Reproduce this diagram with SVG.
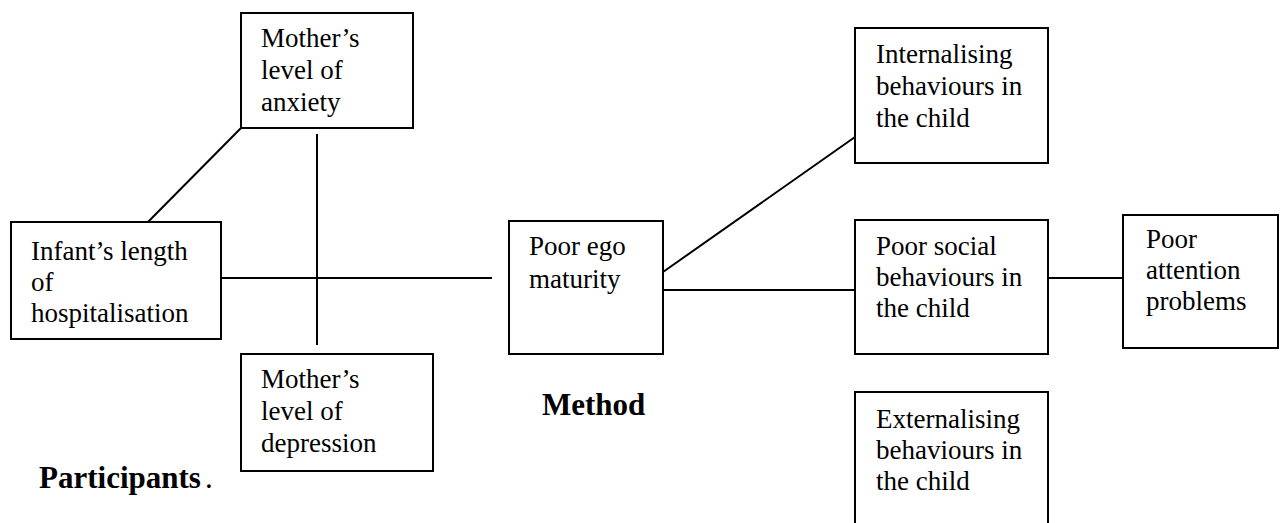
<svg xmlns="http://www.w3.org/2000/svg" width="1281" height="523" viewBox="0 0 1281 523">
<style>
.box{fill:#fff;stroke:#000;stroke-width:2}
.c{stroke:#000;stroke-width:2;fill:none}
</style>
<rect width="1281" height="523" fill="#fff"/>
<g id="connectors">
<line class="c" x1="241" y1="128" x2="146" y2="224"/>
<line class="c" x1="317" y1="134" x2="317" y2="345"/>
<line class="c" x1="221" y1="278" x2="492" y2="278"/>
<line class="c" x1="663" y1="272" x2="855" y2="137"/>
<line class="c" x1="663" y1="290" x2="855" y2="290"/>
<line class="c" x1="1048" y1="278" x2="1123" y2="278"/>
</g>
<g id="anxiety">
<rect class="box" x="241" y="13" width="172" height="115"/>
<text x="261" y="47" font-family="Times New Roman" font-size="27">Mother’s</text>
<text x="261" y="79" font-family="Times New Roman" font-size="27">level of</text>
<text x="261" y="111" font-family="Times New Roman" font-size="27">anxiety</text>
</g>
<g id="infant">
<rect class="box" x="11" y="222" width="210" height="117"/>
<text x="31" y="260" font-family="Times New Roman" font-size="27">Infant’s length</text>
<text x="31" y="291" font-family="Times New Roman" font-size="27">of</text>
<text x="31" y="322" font-family="Times New Roman" font-size="27">hospitalisation</text>
</g>
<g id="depression">
<rect class="box" x="241" y="354" width="192" height="117"/>
<text x="261" y="388" font-family="Times New Roman" font-size="27">Mother’s</text>
<text x="261" y="420" font-family="Times New Roman" font-size="27">level of</text>
<text x="261" y="452" font-family="Times New Roman" font-size="27">depression</text>
</g>
<g id="ego">
<rect class="box" x="509" y="221" width="154" height="133"/>
<text x="529" y="255" font-family="Times New Roman" font-size="27">Poor ego</text>
<text x="529" y="288" font-family="Times New Roman" font-size="27">maturity</text>
</g>
<g id="internalising">
<rect class="box" x="855" y="28" width="193" height="135"/>
<text x="876" y="63" font-family="Times New Roman" font-size="27">Internalising</text>
<text x="876" y="95" font-family="Times New Roman" font-size="27">behaviours in</text>
<text x="876" y="127" font-family="Times New Roman" font-size="27">the child</text>
</g>
<g id="social">
<rect class="box" x="855" y="220" width="193" height="134"/>
<text x="876" y="255" font-family="Times New Roman" font-size="27">Poor social</text>
<text x="876" y="286" font-family="Times New Roman" font-size="27">behaviours in</text>
<text x="876" y="317" font-family="Times New Roman" font-size="27">the child</text>
</g>
<g id="attention">
<rect class="box" x="1123" y="215" width="155" height="133"/>
<text x="1146" y="248" font-family="Times New Roman" font-size="27">Poor</text>
<text x="1146" y="279" font-family="Times New Roman" font-size="27">attention</text>
<text x="1146" y="310" font-family="Times New Roman" font-size="27">problems</text>
</g>
<g id="externalising">
<rect class="box" x="855" y="392" width="193" height="140"/>
<text x="876" y="428" font-family="Times New Roman" font-size="27">Externalising</text>
<text x="876" y="459" font-family="Times New Roman" font-size="27">behaviours in</text>
<text x="876" y="490" font-family="Times New Roman" font-size="27">the child</text>
</g>
<text x="542" y="415" font-family="Times New Roman" font-size="31" font-weight="bold">Method</text>
<text x="39" y="488" font-family="Times New Roman" font-size="31" font-weight="bold">Participants<tspan font-weight="normal" dx="4">.</tspan></text>
</svg>
